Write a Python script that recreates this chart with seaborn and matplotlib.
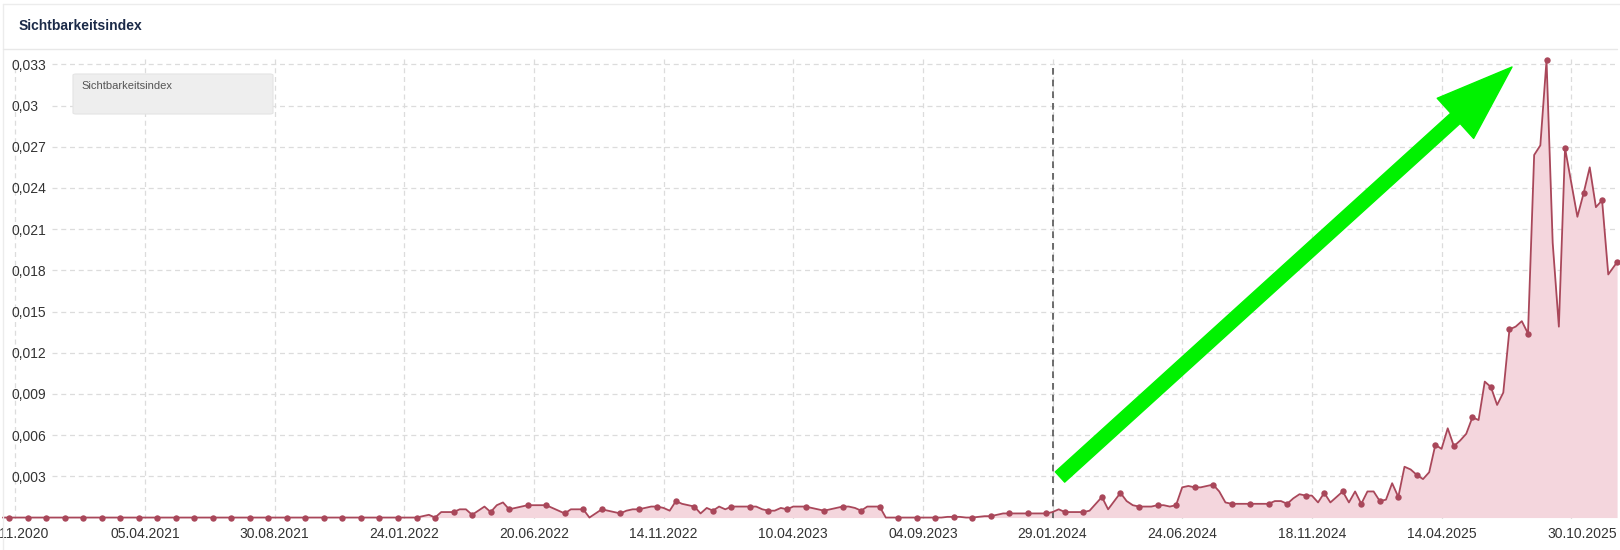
import pandas as pd
import matplotlib
matplotlib.use('Agg')
import matplotlib.pyplot as plt
import seaborn as sns
from matplotlib.patches import FancyBboxPatch
from matplotlib.lines import Line2D

# weekly values (Mondays), last point is a partial week
start_week = '2020-10-26'
last_full_week = '2025-10-20'
last_day = '2025-10-30'

vis_2020_2021 = [
    0.0, 0.0, 0.0, 0.0, 0.0, 0.0, 0.0, 0.0, 0.0, 0.0,
    0.0, 0.0, 0.0, 0.0, 0.0, 0.0, 0.0, 0.0, 0.0, 0.0,
    0.0, 0.0, 0.0, 0.0, 0.0, 0.0, 0.0, 0.0, 0.0, 0.0,
    0.0, 0.0, 0.0, 0.0, 0.0, 0.0, 0.0, 0.0, 0.0, 0.0,
    0.0, 0.0, 0.0, 0.0, 0.0, 0.0, 0.0, 0.0, 0.0, 0.0,
    0.0, 0.0, 0.0, 0.0, 0.0, 0.0, 0.0, 0.0, 0.0, 0.0,
    0.0, 0.0, 0.0, 0.0, 0.0, 0.0, 0.0,
]
vis_2022_2023 = [
    0.0, 0.0001, 0.0002, 0.0, 0.0004, 0.0004, 0.0004, 0.0006, 0.0006, 0.0002,
    0.0005, 0.0008, 0.0004, 0.0009, 0.0011, 0.0006, 0.0007, 0.0008, 0.0009, 0.0009,
    0.0009, 0.0009, 0.0007, 0.0005, 0.0003, 0.0006, 0.0006, 0.0006, 0.0, 0.0003,
    0.0006, 0.0005, 0.0004, 0.0003, 0.0005, 0.0006, 0.0006, 0.0007, 0.0008, 0.0008,
    0.0007, 0.0005, 0.0012, 0.001, 0.0009, 0.0008, 0.0003, 0.0007, 0.0005, 0.0008,
    0.0006, 0.0008, 0.0008, 0.0008, 0.0008, 0.0008, 0.0006, 0.0005, 0.0005, 0.0007,
    0.0006, 0.0008, 0.0008, 0.0008, 0.0007, 0.0006, 0.0005, 0.0006, 0.0007, 0.0008,
    0.0008, 0.0007, 0.0005, 0.0008, 0.0008, 0.0008,
]
vis_2023_2024 = [
    0.0, 0.0, 0.0, 0.0, 0.0, 0.0, 0.0, 0.0, 0.0, 0.0,
    0.00005, 0.00005, 0.00005, 0.0, 0.0, 0.00005, 0.0001, 0.0001, 0.0002, 0.0003,
    0.0003, 0.0003, 0.0003, 0.0003, 0.0003, 0.0003, 0.0003, 0.0004, 0.0006, 0.0004,
    0.0004, 0.0004, 0.0004, 0.0005, 0.001, 0.0015, 0.0006, 0.0012, 0.0018, 0.0012,
    0.0009, 0.0008, 0.0008, 0.0008, 0.0009, 0.0009, 0.0008, 0.0009,
]
vis_2024_2025 = [
    0.0022, 0.0023, 0.0022, 0.0022, 0.0023, 0.0024, 0.0019, 0.0011, 0.001, 0.001,
    0.001, 0.001, 0.001, 0.001, 0.001, 0.0012, 0.0012, 0.001, 0.0014, 0.0017,
    0.0016, 0.0016, 0.0011, 0.0018, 0.0011, 0.0015, 0.0019, 0.0011, 0.0019, 0.001,
    0.0019, 0.0019, 0.0012, 0.0013, 0.0025, 0.0015, 0.0037, 0.0035, 0.0031, 0.0028,
    0.0033,
]
vis_2025 = [
    0.0053, 0.005, 0.0065, 0.0052, 0.0056, 0.0061, 0.0073, 0.0071, 0.0099, 0.0095,
    0.0082, 0.0091, 0.0137, 0.0139, 0.0143, 0.0134, 0.0264, 0.0271, 0.0333, 0.02,
    0.0139, 0.0269, 0.0244, 0.0219, 0.0236, 0.0255, 0.0226, 0.0231, 0.0177,
    0.0186,
]

tick_labels = ['09.11.2020', '05.04.2021', '30.08.2021', '24.01.2022', '20.06.2022',
               '14.11.2022', '10.04.2023', '04.09.2023', '29.01.2024', '24.06.2024',
               '18.11.2024', '14.04.2025', '30.10.2025']
grid_dates = ['09.11.2020', '05.04.2021', '30.08.2021', '24.01.2022', '20.06.2022',
              '14.11.2022', '10.04.2023', '04.09.2023', '29.01.2024', '24.06.2024',
              '18.11.2024', '14.04.2025', '08.09.2025']
y_ticks = [0.003, 0.006, 0.009, 0.012, 0.015, 0.018, 0.021, 0.024, 0.027, 0.03, 0.033]
y_labels = ['0,003', '0,006', '0,009', '0,012', '0,015', '0,018', '0,021', '0,024',
            '0,027', '0,03', '0,033']
event_date = '29.01.2024'

line_color = '#a9475a'
fill_color = '#f4d6dd'
grid_color = '#dcdcdc'

dates = list(pd.date_range(start_week, last_full_week, freq='7D')) + [pd.Timestamp(last_day)]
values = vis_2020_2021 + vis_2022_2023 + vis_2023_2024 + vis_2024_2025 + vis_2025
df = pd.DataFrame({'date': dates, 'value': values})

sns.set_style('white')
plt.rcParams['font.family'] = ['Liberation Sans', 'DejaVu Sans']

fig = plt.figure(figsize=(16.2, 5.5), dpi=100)
ax = fig.add_axes([0.0012, 0.0565, 0.997, 0.839])

# grid
for v in y_ticks:
    ax.axhline(v, xmin=0.031, color=grid_color, ls=(0, (4, 3)), lw=0.9, zorder=0)
for d in pd.to_datetime(grid_dates, format='%d.%m.%Y'):
    ax.axvline(d, color=grid_color, ls=(0, (4, 3)), lw=0.9, zorder=0)

ax.fill_between(df['date'], df['value'], 0, color=fill_color, lw=0, zorder=1)
marks = list(range(1, len(df), 3)) + [len(df) - 1]
sns.lineplot(data=df, x='date', y='value', ax=ax, color=line_color, lw=1.3,
             marker='o', markersize=4.6, markeredgewidth=0, markevery=marks,
             clip_on=False, zorder=3)

ax.vlines(pd.to_datetime(event_date, format='%d.%m.%Y'), 0, 0.033, color='#555555',
          ls=(0, (4, 3)), lw=1.2, zorder=2)

ax.set_xlim(pd.Timestamp('2020-10-25'), pd.Timestamp(last_day))
ax.set_ylim(-0.0001, 0.0335)
ax.set_xlabel('')
ax.set_ylabel('')
for s in ax.spines.values():
    s.set_visible(False)

ax.set_xticks(pd.to_datetime(tick_labels, format='%d.%m.%Y'))
ax.set_xticklabels(tick_labels, fontsize=10, color='#333333')
ax.get_xticklabels()[-1].set_ha('right')
ax.set_yticks(y_ticks)
ax.set_yticklabels(y_labels, fontsize=10, color='#333333')
for lbl in ax.get_yticklabels():
    lbl.set_ha('left')
ax.tick_params(axis='x', length=0, pad=6)
ax.tick_params(axis='y', length=0, pad=-7.2)

# card border + header
fig.add_artist(Line2D([3 / 1620, 3 / 1620], [0, 1 - 4 / 550], transform=fig.transFigure,
                      color='#ececec', lw=1))
fig.add_artist(Line2D([3 / 1620, 1], [1 - 4 / 550] * 2, transform=fig.transFigure,
                      color='#ececec', lw=1))
fig.text(19 / 1620, 1 - 26 / 550, 'Sichtbarkeitsindex', fontsize=10, fontweight='bold',
         color='#1b2a48', va='center')
fig.add_artist(Line2D([0.002, 0.998], [1 - 49 / 550] * 2, transform=fig.transFigure,
                      color='#e8e8e8', lw=1))

# legend box
fig.patches.append(FancyBboxPatch((73 / 1620, 1 - 114 / 550), 200 / 1620, 40 / 550,
                                  boxstyle='round,pad=0,rounding_size=0.002',
                                  transform=fig.transFigure, fc='#eeeeee', ec='#e4e4e4',
                                  lw=0.8, zorder=5))
fig.text(81 / 1620, 1 - 86 / 550, 'Sichtbarkeitsindex', fontsize=8, color='#555555',
         va='center', zorder=6)

# green arrow
ax.annotate('', xy=(1512, 483), xytext=(1060, 73), xycoords='figure pixels',
            textcoords='figure pixels',
            arrowprops=dict(arrowstyle='simple,head_width=3.9,head_length=5.5,tail_width=1.0',
                            mutation_scale=10, color='#00f200', shrinkA=0, shrinkB=0),
            zorder=6)

fig.savefig('out.png', dpi=100)
